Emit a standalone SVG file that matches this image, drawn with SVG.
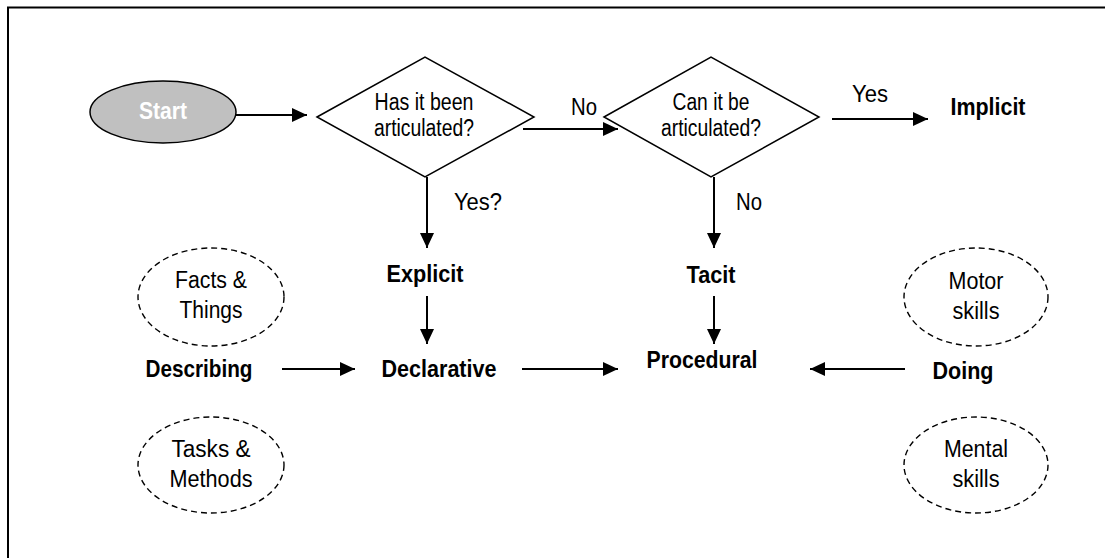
<svg xmlns="http://www.w3.org/2000/svg" width="1105" height="558" viewBox="0 0 1105 558">
<style>
text{font-family:"Liberation Sans Narrow","Liberation Sans",Arial,sans-serif;font-size:23px;fill:#000;text-anchor:middle}
.b{font-weight:bold;font-size:23px}
.w{fill:#fff;font-weight:bold;font-size:23px}
.shape{fill:#fff;stroke:#000;stroke-width:1.5}
.dash{fill:none;stroke:#000;stroke-width:1.4;stroke-dasharray:6 4}
.conn line{stroke:#000;stroke-width:2;marker-end:url(#ah)}
</style>
<defs>
<marker id="ah" markerUnits="userSpaceOnUse" markerWidth="15" markerHeight="14" refX="15" refY="7" orient="auto">
<path d="M0,0 L15,7 L0,14 z" fill="#000"/>
</marker>
</defs>
<rect width="1105" height="558" fill="#fff"/>
<g id="frame" stroke="#000" stroke-width="2">
<line x1="7" y1="7.5" x2="1105" y2="7.5"/>
<line x1="8" y1="7" x2="8" y2="558"/>
</g>
<g id="start">
<ellipse cx="163" cy="112" rx="73" ry="31" fill="#c0c0c0" stroke="#000" stroke-width="1.5"/>
<text class="w" x="163" y="119" textLength="48" lengthAdjust="spacingAndGlyphs">Start</text>
</g>
<g id="q1">
<polygon class="shape" points="317,117 425,57 534,117 425,177"/>
<text x="424" y="110" textLength="99" lengthAdjust="spacingAndGlyphs">Has it been</text>
<text x="424" y="136" textLength="100" lengthAdjust="spacingAndGlyphs">articulated?</text>
</g>
<g id="q2">
<polygon class="shape" points="604,117 711,57 819,117 711,177"/>
<text x="711" y="110" textLength="77" lengthAdjust="spacingAndGlyphs">Can it be</text>
<text x="711" y="136" textLength="100" lengthAdjust="spacingAndGlyphs">articulated?</text>
</g>
<g id="implicit"><text class="b" x="988" y="115" textLength="75" lengthAdjust="spacingAndGlyphs">Implicit</text></g>
<g id="explicit"><text class="b" x="425" y="282" textLength="77" lengthAdjust="spacingAndGlyphs">Explicit</text></g>
<g id="tacit"><text class="b" x="711" y="283" textLength="49" lengthAdjust="spacingAndGlyphs">Tacit</text></g>
<g id="describing"><text class="b" x="199" y="377" textLength="107" lengthAdjust="spacingAndGlyphs">Describing</text></g>
<g id="declarative"><text class="b" x="439" y="377" textLength="115" lengthAdjust="spacingAndGlyphs">Declarative</text></g>
<g id="procedural"><text class="b" x="702" y="368" textLength="111" lengthAdjust="spacingAndGlyphs">Procedural</text></g>
<g id="doing"><text class="b" x="963" y="379" textLength="61" lengthAdjust="spacingAndGlyphs">Doing</text></g>
<g id="facts">
<ellipse class="dash" cx="211" cy="297" rx="73" ry="49"/>
<text x="211" y="288" textLength="72" lengthAdjust="spacingAndGlyphs">Facts &amp;</text>
<text x="211" y="318" textLength="63" lengthAdjust="spacingAndGlyphs">Things</text>
</g>
<g id="tasks">
<ellipse class="dash" cx="211" cy="465" rx="73" ry="48"/>
<text x="211" y="457" textLength="79" lengthAdjust="spacingAndGlyphs">Tasks &amp;</text>
<text x="211" y="487" textLength="83" lengthAdjust="spacingAndGlyphs">Methods</text>
</g>
<g id="motor">
<ellipse class="dash" cx="976" cy="297" rx="72" ry="49"/>
<text x="976" y="289" textLength="55" lengthAdjust="spacingAndGlyphs">Motor</text>
<text x="976" y="319" textLength="47" lengthAdjust="spacingAndGlyphs">skills</text>
</g>
<g id="mental">
<ellipse class="dash" cx="976" cy="465" rx="72" ry="48"/>
<text x="976" y="457" textLength="64" lengthAdjust="spacingAndGlyphs">Mental</text>
<text x="976" y="487" textLength="47" lengthAdjust="spacingAndGlyphs">skills</text>
</g>
<g id="connectors" class="conn">
<line x1="236" y1="115" x2="307" y2="115"/>
<line x1="523" y1="129" x2="618" y2="129"/>
<line x1="832" y1="119" x2="928" y2="119"/>
<line x1="427" y1="177" x2="427" y2="248"/>
<line x1="714" y1="177" x2="714" y2="248"/>
<line x1="427" y1="296" x2="427" y2="344"/>
<line x1="714" y1="296" x2="714" y2="344"/>
<line x1="282" y1="369" x2="355" y2="369"/>
<line x1="522" y1="369" x2="618" y2="369"/>
<line x1="905" y1="369" x2="810" y2="369"/>
</g>
<g id="labels">
<text x="584" y="115" textLength="26" lengthAdjust="spacingAndGlyphs">No</text>
<text x="870" y="102" textLength="36" lengthAdjust="spacingAndGlyphs">Yes</text>
<text x="478" y="210" textLength="48" lengthAdjust="spacingAndGlyphs">Yes?</text>
<text x="749" y="210" textLength="26" lengthAdjust="spacingAndGlyphs">No</text>
</g>
</svg>
